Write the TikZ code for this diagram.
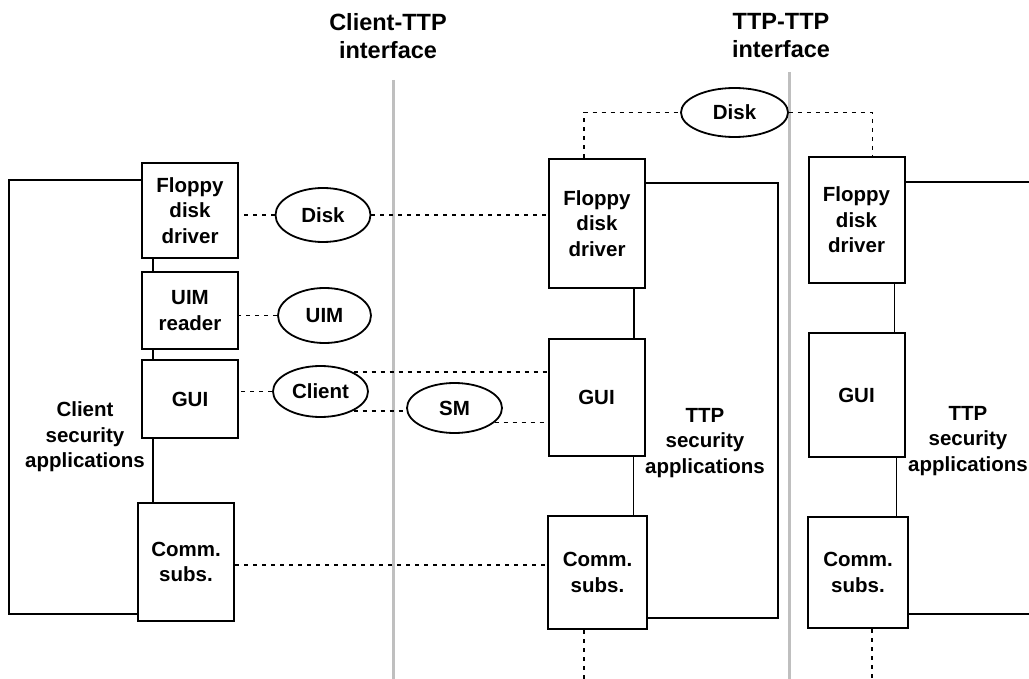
\documentclass[tikz,border=0pt]{standalone}
\usepackage{fontspec}
\setmainfont{Liberation Sans}
\usepackage{tikz}
\usetikzlibrary{shapes.geometric,calc}

\begin{document}
\begin{tikzpicture}[x=1pt, y=-1pt,
      font=\fontsize{20.5}{25.5}\selectfont\bfseries,
      box/.style={draw, align=center, minimum width=96pt, inner sep=0pt,
                  line width=2pt},
      oval/.style={draw, ellipse, minimum width=95pt, minimum height=52pt,
                   inner sep=0pt, line width=1.8pt},
      note/.style={align=center},
      head/.style={align=center, font=\fontsize{23.5}{28}\selectfont\bfseries},
      link/.style={line width=1.8pt},
      wire/.style={line width=1.8pt, dash pattern=on 4pt off 5pt},
      rule/.style={line width=3pt, draw=black!25}]

    \useasboundingbox (0,0) rectangle (1029,679);

    % interfaces
    \node[head] (hclient) at (388,36) {Client-TTP\\interface};
    \node[head] (http) at (781,36) {TTP-TTP\\interface};
    \draw[rule] (393,80) -- (393,679);
    \draw[rule] (789,72) -- (789,679);

    % client side
    \node[box, minimum height=95pt] (cfloppy) at (190,210.5) {Floppy\\disk\\driver};
    \node[box, minimum height=77pt] (cuim) at (190,310.5) {UIM\\reader};
    \node[box, minimum height=78pt] (cgui) at (190,399) {GUI};
    \node[box, minimum height=118pt] (ccomm) at (186,562) {Comm.\\subs.};
    \node[note] (capps) at (85,437) {Client\\security\\applications};
    \draw[link] ([xshift=12pt]cfloppy.south west) -- ([xshift=12pt]cuim.north west);
    \draw[link] ([xshift=12pt]cuim.south west) -- ([xshift=12pt]cgui.north west);
    \draw[link] ([xshift=12pt]cgui.south west) -- ([xshift=12pt]cgui.south west |- ccomm.north);
    \draw[link] ([yshift=-18pt]cfloppy.north west) -| ([xshift=-128pt,yshift=8pt]ccomm.south west)
      -- ([yshift=8pt]ccomm.south west);

    % first TTP
    \node[box, minimum height=129pt] (tfloppy) at (597,223.5) {Floppy\\disk\\driver};
    \node[box, minimum height=117pt] (tgui) at (596.5,397.5) {GUI};
    \node[box, minimum width=99pt, minimum height=113pt] (tcomm) at (597.5,572.5) {Comm.\\subs.};
    \node[note] (tapps) at (705,443) {TTP\\security\\applications};
    \draw[link] ([xshift=-12pt]tfloppy.south east) -- ([xshift=-12pt]tfloppy.south east |- tgui.north);
    \draw[link] ([xshift=-12pt]tgui.south east) -- ([xshift=-12pt]tgui.south east |- tcomm.north);
    \draw[link] ([yshift=-25pt]tfloppy.north east) -| ([xshift=130pt,yshift=12pt]tcomm.south east)
      -- ([yshift=12pt]tcomm.south east);

    % second TTP
    \node[box, minimum height=126pt] (rfloppy) at (856.5,220) {Floppy\\disk\\driver};
    \node[box, minimum height=124pt] (rgui) at (856.5,395) {GUI};
    \node[box, minimum width=100pt, minimum height=111pt] (rcomm) at (858,572.5) {Comm.\\subs.};
    \node[note] (rapps) at (968,441) {TTP\\security\\applications};
    \draw[link] ([xshift=-11pt]rfloppy.south east) -- ([xshift=-11pt]rfloppy.south east |- rgui.north);
    \draw[link] ([xshift=-9pt]rgui.south east) -- ([xshift=-9pt]rgui.south east |- rcomm.north);
    \draw[link] ([yshift=-26pt]rfloppy.north east) -- ++(124,0);
    \draw[link] ([yshift=15pt]rcomm.south east) -- ++(121,0);

    % media
    \node[oval, minimum height=54pt] (diska) at (323,215) {Disk};
    \node[oval, minimum width=93pt, minimum height=55pt] (uim) at (324.5,315.5) {UIM};
    \node[oval, minimum height=51pt] (client) at (320.5,391.5) {Client};
    \node[oval, minimum height=50pt] (sm) at (454.5,408) {SM};
    \node[oval, minimum width=107pt, minimum height=49pt] (diskb) at (734.5,112.5) {Disk};

    \draw[wire] (diska.west) -- (diska.west -| cfloppy.east);
    \draw[wire] (diska.east) -- (diska.east -| tfloppy.west);
    \draw[wire] (uim.west) -- (uim.west -| cuim.east);
    \draw[wire] (client.west) -- (client.west -| cgui.east);
    \draw[wire] (client.30) -- (client.30 -| tgui.west);
    \draw[wire] (client.-30) -- (client.-30 -| sm.west);
    \draw[wire] (sm.-20) -- (sm.-20 -| tgui.west);
    \draw[wire] ([yshift=-3pt]ccomm.east) -- ([yshift=-3pt]ccomm.east -| tcomm.west);
    \draw[wire] ([xshift=36pt]tfloppy.north west) |- (diskb.west);
    \draw[wire] (diskb.east) -| ([xshift=65pt]rfloppy.north west);
    \draw[wire] ([xshift=37pt]tcomm.south west) -- ++(0,50);
    \draw[wire] ([xshift=65pt]rcomm.south west) -- ++(0,51);
  \end{tikzpicture}
\end{document}
